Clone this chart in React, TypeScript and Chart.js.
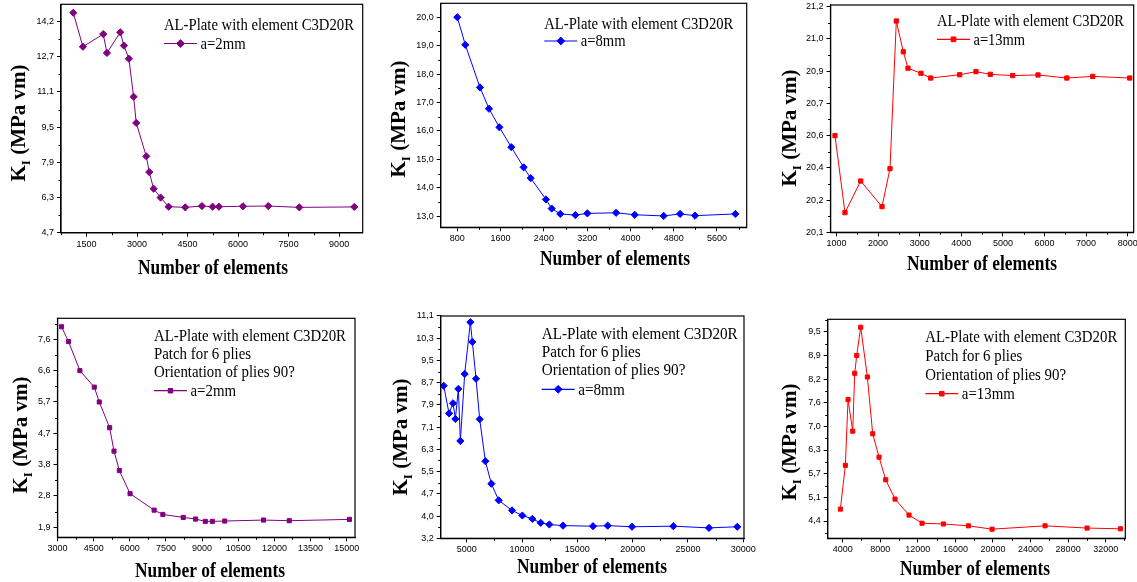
import React, { useEffect, useRef } from 'react';
import { Chart, registerables } from 'chart.js';

Chart.register(...registerables);

const W = 1137;
const H = 582;
const OX = 20;
const OY = 20;
const CW = W + 2 * OX;
const CH = H + 2 * OY;
const YAXIS_W = 34;
const XAXIS_H = 22;

const PURPLE = '#800080';
const BLUE = '#0000FF';
const RED = '#FF0000';

// ---------- Panel 1: a=2mm, plain plate ----------
const p1Elements = [1104, 1391, 1995, 2104, 2500, 2609, 2757, 2896, 2975, 3272, 3361, 3490, 3698, 3936, 4431, 4926, 5243, 5431, 6144, 6896, 7817, 9450];
const p1KI = [14.6, 13.07, 13.64, 12.79, 13.72, 13.12, 12.53, 10.82, 9.64, 8.14, 7.43, 6.68, 6.28, 5.87, 5.84, 5.9, 5.87, 5.87, 5.89, 5.9, 5.84, 5.86];
const p1XTicks = [1500, 3000, 4500, 6000, 7500, 9000];
const p1YTickLabels = ['4,7', '6,3', '7,9', '9,5', '11,1', '12,7', '14,2'];
const p1YTickRange = [4.7, 14.2];
const p1Legend = ['AL-Plate with element C3D20R'];
const p1Series = 'a=2mm';

// ---------- Panel 2: a=8mm, plain plate ----------
const p2Elements = [800, 948, 1219, 1386, 1577, 1798, 2026, 2156, 2439, 2544, 2704, 2982, 3204, 3734, 4079, 4615, 4917, 5194, 5940];
const p2KI = [20.0, 19.03, 17.53, 16.78, 16.13, 15.43, 14.72, 14.34, 13.59, 13.27, 13.08, 13.04, 13.1, 13.12, 13.05, 13.01, 13.08, 13.02, 13.08];
const p2XTicks = [800, 1600, 2400, 3200, 4000, 4800, 5600];
const p2YTickLabels = ['13,0', '14,0', '15,0', '16,0', '17,0', '18,0', '19,0', '20,0'];
const p2YTickRange = [13, 20];
const p2Legend = ['AL-Plate with element C3D20R'];
const p2Series = 'a=8mm';

// ---------- Panel 3: a=13mm, plain plate ----------
const p3Elements = [964, 1204, 1582, 2094, 2286, 2438, 2606, 2719, 3031, 3264, 3962, 4353, 4697, 5236, 5844, 6537, 7159, 8048];
const p3KI = [20.571, 20.196, 20.35, 20.225, 20.41, 21.13, 20.98, 20.9, 20.875, 20.852, 20.868, 20.883, 20.87, 20.864, 20.867, 20.852, 20.86, 20.852];
const p3XTicks = [1000, 2000, 3000, 4000, 5000, 6000, 7000, 8000];
const p3YTickLabels = ['20,1', '20,2', '20,4', '20,6', '20,7', '20,9', '21,0', '21,2'];
const p3YTickRange = [20.1, 21.2];
const p3Legend = ['AL-Plate with element C3D20R'];
const p3Series = 'a=13mm';

// ---------- Panel 4: a=2mm, patched ----------
const p4Elements = [3166, 3458, 3930, 4526, 4734, 5164, 5345, 5567, 6011, 7010, 7371, 8217, 8730, 9133, 9424, 9938, 11548, 12616, 15114];
const p4KI = [7.98, 7.53, 6.65, 6.15, 5.7, 4.92, 4.21, 3.62, 2.92, 2.42, 2.29, 2.2, 2.15, 2.08, 2.08, 2.09, 2.12, 2.1, 2.14];
const p4XTicks = [3000, 4500, 6000, 7500, 9000, 10500, 12000, 13500, 15000];
const p4YTickLabels = ['1,9', '2,8', '3,8', '4,7', '5,7', '6,6', '7,6'];
const p4YTickRange = [1.9, 7.6];
const p4Legend = ['AL-Plate with element C3D20R', 'Patch for 6 plies', 'Orientation of plies 90?'];
const p4Series = 'a=2mm';

// ---------- Panel 5: a=8mm, patched ----------
const p5Elements = [2922, 3404, 3765, 3976, 4247, 4428, 4819, 5331, 5512, 5843, 6175, 6687, 7229, 7892, 9096, 10030, 10934, 11687, 12470, 13705, 16416, 17741, 19940, 23675, 26898, 29458];
const p5KI = [8.62, 7.64, 8.0, 7.44, 8.51, 6.66, 9.04, 10.88, 10.18, 8.87, 7.43, 5.94, 5.14, 4.55, 4.19, 4.01, 3.89, 3.75, 3.69, 3.65, 3.63, 3.65, 3.61, 3.63, 3.57, 3.61];
const p5XTicks = [5000, 10000, 15000, 20000, 25000, 30000];
const p5YTickLabels = ['3,2', '4,0', '4,7', '5,5', '6,3', '7,1', '7,9', '8,7', '9,5', '10,3', '11,1'];
const p5YTickRange = [3.2, 11.1];
const p5Legend = ['AL-Plate with element C3D20R', 'Patch for 6 plies', 'Orientation of plies 90?'];
const p5Series = 'a=8mm';

// ---------- Panel 6: a=13mm, patched ----------
const p6Elements = [3752, 4284, 4568, 5065, 5278, 5491, 5917, 6626, 7194, 7868, 8578, 9572, 11063, 12447, 14719, 17381, 19901, 25544, 30017, 33566];
const p6KI = [4.72, 5.9, 7.67, 6.82, 8.38, 8.86, 9.62, 8.28, 6.75, 6.12, 5.51, 4.99, 4.56, 4.34, 4.32, 4.27, 4.18, 4.27, 4.21, 4.19];
const p6XTicks = [4000, 8000, 12000, 16000, 20000, 24000, 28000, 32000];
const p6YTickLabels = ['4,4', '5,1', '5,7', '6,3', '7,0', '7,6', '8,2', '8,9', '9,5'];
const p6YTickRange = [4.4, 9.5];
const p6Legend = ['AL-Plate with element C3D20R', 'Patch for 6 plies', 'Orientation of plies 90?'];
const p6Series = 'a=13mm';

const X_TITLE = 'Number of elements';

type Layout = {
  l: number; t: number; r: number; b: number;
  xMin: number; xMax: number; yMin: number; yMax: number;
  yTitleX: number; yTitleY: number; xTitleX: number; xTitleY: number;
  legX: number; legYs: number[]; legW: number;
};

type PanelCfg = {
  xs: number[]; ys: number[]; xTicks: number[]; yLabels: string[]; yRange: number[];
  legend: string[]; series: string; color: string; marker: 'rect' | 'rectRot'; radius: number;
  lay: Layout;
};

const panels: PanelCfg[] = [
  {
    xs: p1Elements, ys: p1KI, xTicks: p1XTicks, yLabels: p1YTickLabels, yRange: p1YTickRange,
    legend: p1Legend, series: p1Series, color: PURPLE, marker: 'rectRot', radius: 3.6,
    lay: { l: 61, t: 4.3, r: 362.7, b: 232.7, xMin: 740, xMax: 9700, yMin: 4.7, yMax: 14.98,
      yTitleX: 18, yTitleY: 123, xTitleX: 213, xTitleY: 267, legX: 164, legYs: [24.5, 43.5], legW: 190 },
  },
  {
    xs: p2Elements, ys: p2KI, xTicks: p2XTicks, yLabels: p2YTickLabels, yRange: p2YTickRange,
    legend: p2Legend, series: p2Series, color: BLUE, marker: 'rectRot', radius: 3.6,
    lay: { l: 440.7, t: 3.3, r: 746.7, b: 227.3, xMin: 493, xMax: 6149, yMin: 12.61, yMax: 20.49,
      yTitleX: 398, yTitleY: 119, xTitleX: 615, xTitleY: 258, legX: 544.3, legYs: [23.5, 41], legW: 189 },
  },
  {
    xs: p3Elements, ys: p3KI, xTicks: p3XTicks, yLabels: p3YTickLabels, yRange: p3YTickRange,
    legend: p3Legend, series: p3Series, color: RED, marker: 'rect', radius: 3,
    lay: { l: 830.5, t: 5, r: 1133.7, b: 232.3, xMin: 856, xMax: 8144, yMin: 20.1, yMax: 21.208,
      yTitleX: 788.7, yTitleY: 128, xTitleX: 982, xTitleY: 263, legX: 937, legYs: [20.7, 39.3], legW: 187 },
  },
  {
    xs: p4Elements, ys: p4KI, xTicks: p4XTicks, yLabels: p4YTickLabels, yRange: p4YTickRange,
    legend: p4Legend, series: p4Series, color: PURPLE, marker: 'rect', radius: 2.9,
    lay: { l: 57.5, t: 318.3, r: 355, b: 537.3, xMin: 3000, xMax: 15344, yMin: 1.597, yMax: 8.237,
      yTitleX: 20, yTitleY: 435, xTitleX: 210, xTitleY: 570.7, legX: 154, legYs: [336, 354, 371.7, 390.7], legW: 192 },
  },
  {
    xs: p5Elements, ys: p5KI, xTicks: p5XTicks, yLabels: p5YTickLabels, yRange: p5YTickRange,
    legend: p5Legend, series: p5Series, color: BLUE, marker: 'rectRot', radius: 3.6,
    lay: { l: 440.7, t: 316, r: 744, b: 538.3, xMin: 2650, xMax: 30063, yMin: 3.2, yMax: 11.1,
      yTitleX: 400, yTitleY: 437, xTitleX: 592, xTitleY: 566.7, legX: 541.7, legYs: [333.3, 351.7, 370, 389.3], legW: 196 },
  },
  {
    xs: p6Elements, ys: p6KI, xTicks: p6XTicks, yLabels: p6YTickLabels, yRange: p6YTickRange,
    legend: p6Legend, series: p6Series, color: RED, marker: 'rect', radius: 2.9,
    lay: { l: 827.7, t: 319.3, r: 1125.3, b: 538.3, xMin: 2403, xMax: 34087, yMin: 3.934, yMax: 9.834,
      yTitleX: 788.7, yTitleY: 442, xTitleX: 975, xTitleY: 568, legX: 925.3, legYs: [336.7, 355.7, 374.3, 393.7], legW: 192 },
  },
];

const SERIF = '"Liberation Serif", "Times New Roman", serif';
const SANS = '"Liberation Sans", Arial, sans-serif';

function yTickValues(cfg: PanelCfg): number[] {
  const n = cfg.yLabels.length;
  const [lo, hi] = cfg.yRange;
  const out: number[] = [];
  for (let i = 0; i < n; i++) out.push(lo + ((hi - lo) * i) / (n - 1));
  return out;
}

function drawMarker(ctx: CanvasRenderingContext2D, style: string, x: number, y: number, r: number) {
  ctx.beginPath();
  if (style === 'rectRot') {
    ctx.moveTo(x - r, y);
    ctx.lineTo(x, y - r);
    ctx.lineTo(x + r, y);
    ctx.lineTo(x, y + r);
    ctx.closePath();
  } else {
    const s = Math.SQRT1_2 * r;
    ctx.rect(x - s, y - s, 2 * s, 2 * s);
  }
  ctx.fill();
  ctx.stroke();
}

function makeDecor(cfg: PanelCfg) {
  const yVals = yTickValues(cfg);
  return {
    id: 'decor',
    afterDraw(chart: any) {
      const ctx: CanvasRenderingContext2D = chart.ctx;
      const ca = chart.chartArea;
      const xs = chart.scales.x;
      const ys = chart.scales.y;
      const lay = cfg.lay;
      ctx.save();
      // frame
      ctx.strokeStyle = '#000';
      ctx.lineWidth = 1.2;
      ctx.strokeRect(ca.left, ca.top, ca.right - ca.left, ca.bottom - ca.top);
      // minor ticks
      ctx.lineWidth = 1;
      const xStep = cfg.xTicks[1] - cfg.xTicks[0];
      ctx.beginPath();
      for (let v = cfg.xTicks[0] - xStep / 2; v <= lay.xMax; v += xStep) {
        if (v < lay.xMin) continue;
        const px = Math.round(xs.getPixelForValue(v)) + 0.5;
        ctx.moveTo(px, ca.bottom);
        ctx.lineTo(px, ca.bottom + 2.5);
      }
      const yStep = yVals[1] - yVals[0];
      for (let v = yVals[0] - yStep / 2; v <= lay.yMax + 1e-9; v += yStep) {
        if (v < lay.yMin) continue;
        const py = Math.round(ys.getPixelForValue(v)) + 0.5;
        ctx.moveTo(ca.left - 2.5, py);
        ctx.lineTo(ca.left, py);
      }
      ctx.stroke();

      // shift to page coordinates
      ctx.translate(OX, OY);
      ctx.fillStyle = '#000';

      // legend text
      const legFont = `16.5px ${SERIF}`;
      ctx.font = legFont;
      const sx = lay.legW / ctx.measureText(cfg.legend[0]).width;
      const capH = 0.662 * 16.5;
      cfg.legend.forEach((line, i) => {
        ctx.save();
        ctx.translate(lay.legX, lay.legYs[i] + capH / 2);
        ctx.scale(sx, 1);
        ctx.textAlign = 'left';
        ctx.textBaseline = 'alphabetic';
        ctx.fillText(line, 0, 0);
        ctx.restore();
      });
      // legend symbol
      const sy = lay.legYs[lay.legYs.length - 1];
      ctx.strokeStyle = cfg.color;
      ctx.fillStyle = cfg.color;
      ctx.lineWidth = 1.2;
      ctx.beginPath();
      ctx.moveTo(lay.legX, sy);
      ctx.lineTo(lay.legX + 33, sy);
      ctx.stroke();
      ctx.lineWidth = 1;
      drawMarker(ctx, cfg.marker, lay.legX + 16.5, sy, cfg.radius + 0.3);
      ctx.fillStyle = '#000';
      ctx.save();
      ctx.translate(lay.legX + 36.5, sy + capH / 2);
      ctx.scale(sx, 1);
      ctx.font = legFont;
      ctx.fillText(cfg.series, 0, 0);
      ctx.restore();

      // x title
      const xFont = `bold 20px ${SERIF}`;
      ctx.font = xFont;
      const xsx = 150 / ctx.measureText(X_TITLE).width;
      ctx.save();
      ctx.translate(lay.xTitleX, lay.xTitleY + 6.6);
      ctx.scale(xsx, 1);
      ctx.textAlign = 'center';
      ctx.fillText(X_TITLE, 0, 0);
      ctx.restore();

      // y title with subscript
      const fMain = `bold 21px ${SERIF}`;
      const fSub = `bold 13px ${SERIF}`;
      ctx.save();
      ctx.translate(lay.yTitleX, lay.yTitleY);
      ctx.rotate(-Math.PI / 2);
      ctx.textAlign = 'left';
      ctx.font = fMain;
      const wK = ctx.measureText('K').width;
      const rest = ' (MPa vm)';
      const wR = ctx.measureText(rest).width;
      ctx.font = fSub;
      const wI = ctx.measureText('I').width;
      const total = wK + wI + wR;
      let x0 = -total / 2;
      const base = (0.662 * 21) / 2;
      ctx.font = fMain;
      ctx.fillText('K', x0, base);
      x0 += wK;
      ctx.font = fSub;
      ctx.fillText('I', x0, base + 5);
      x0 += wI;
      ctx.font = fMain;
      ctx.fillText(rest, x0, base);
      ctx.restore();

      ctx.restore();
    },
  };
}

function Panel({ cfg }: { cfg: PanelCfg }) {
  const ref = useRef<HTMLCanvasElement | null>(null);
  useEffect(() => {
    if (!ref.current) return;
    const lay = cfg.lay;
    const yVals = yTickValues(cfg);
    const chart = new Chart(ref.current, {
      type: 'line',
      data: {
        datasets: [
          {
            data: cfg.xs.map((x, i) => ({ x, y: cfg.ys[i] })),
            borderColor: cfg.color,
            backgroundColor: cfg.color,
            borderWidth: 1,
            pointStyle: cfg.marker,
            pointRadius: cfg.radius,
            pointBorderWidth: 1,
            pointBorderColor: cfg.color,
            pointBackgroundColor: cfg.color,
            tension: 0,
            fill: false,
            clip: false as any,
          },
        ],
      },
      options: {
        animation: false,
        responsive: false,
        devicePixelRatio: 1,
        events: [],
        layout: {
          padding: {
            left: lay.l + OX - YAXIS_W,
            top: lay.t + OY,
            right: CW - (lay.r + OX),
            bottom: CH - (lay.b + OY) - XAXIS_H,
          },
        },
        plugins: {
          legend: { display: false },
          title: { display: false },
          tooltip: { enabled: false },
        },
        scales: {
          x: {
            type: 'linear',
            position: 'bottom',
            min: lay.xMin,
            max: lay.xMax,
            afterBuildTicks: (s: any) => {
              s.ticks = cfg.xTicks.map((v) => ({ value: v }));
            },
            afterFit: (s: any) => {
              s.height = XAXIS_H;
            },
            grid: { display: true, drawOnChartArea: false, drawTicks: true, tickLength: 4, color: '#000', tickWidth: 1 },
            border: { display: true, color: '#000', width: 1.2 },
            ticks: {
              autoSkip: false,
              maxRotation: 0,
              minRotation: 0,
              padding: 2,
              color: '#000',
              font: { family: SANS, size: 9 },
              callback: (v: any) => String(v),
            },
          },
          y: {
            type: 'linear',
            position: 'left',
            min: lay.yMin,
            max: lay.yMax,
            afterBuildTicks: (s: any) => {
              s.ticks = yVals.map((v) => ({ value: v }));
            },
            afterFit: (s: any) => {
              s.width = YAXIS_W;
            },
            grid: { display: true, drawOnChartArea: false, drawTicks: true, tickLength: 4, color: '#000', tickWidth: 1 },
            border: { display: true, color: '#000', width: 1.2 },
            ticks: {
              autoSkip: false,
              padding: 3,
              color: '#000',
              font: { family: SANS, size: 9 },
              callback: (_v: any, i: number) => cfg.yLabels[i],
            },
          },
        },
      },
      plugins: [makeDecor(cfg)],
    } as any);
    return () => chart.destroy();
  }, [cfg]);
  return (
    <canvas
      ref={ref}
      width={CW}
      height={CH}
      style={{ position: 'absolute', left: -OX, top: -OY, width: CW, height: CH }}
    />
  );
}

export default function App() {
  return (
    <div
      style={{
        position: 'absolute',
        left: 0,
        top: 0,
        width: W,
        height: H,
        background: '#fff',
        overflow: 'hidden',
      }}
    >
      {panels.map((p, i) => (
        <Panel key={i} cfg={p} />
      ))}
    </div>
  );
}
